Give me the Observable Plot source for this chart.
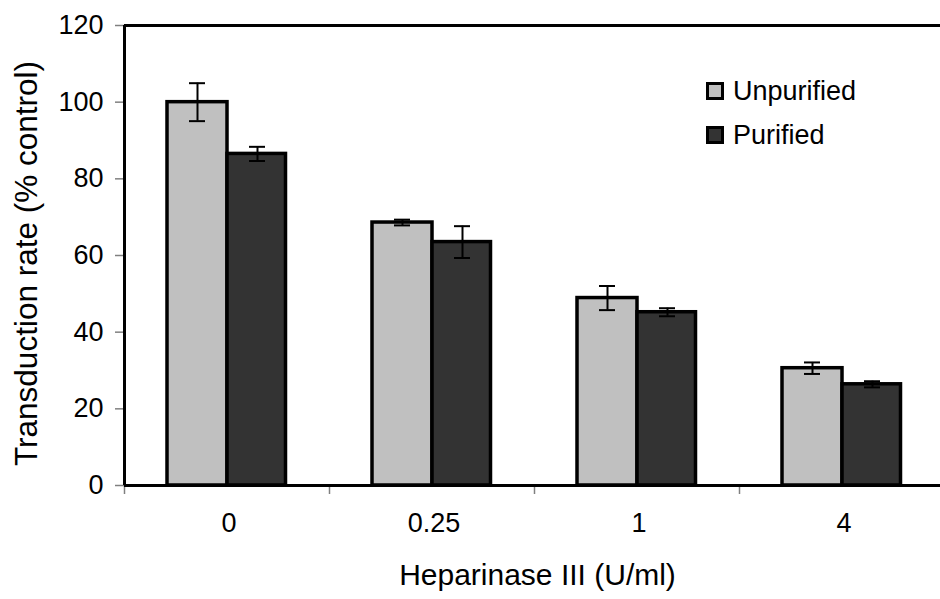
<!DOCTYPE html>
<html>
<head>
<meta charset="utf-8">
<script src="https://cdn.jsdelivr.net/npm/d3@7"></script>
<script src="https://cdn.jsdelivr.net/npm/@observablehq/plot@0.6"></script>
<style>
  html, body { margin: 0; padding: 0; background: #fff; }
  #wrap { position: relative; width: 940px; height: 599px; font-family: "Liberation Sans", Arial, sans-serif; }
  #legend { position: absolute; left: 706px; top: 79px; font-size: 27px; color: #000; }
  .item { display: flex; align-items: center; height: 24px; margin-bottom: 20px; }
  .sw { width: 12px; height: 12px; border: 3px solid #000; margin-right: 9px; }
</style>
</head>
<body>
<div id="wrap"><div id="legend"></div></div>
<script>
const doses = ["0", "0.25", "1", "4"];
const series = ["Unpurified", "Purified"];
const unpurified = [100, 68.6, 48.9, 30.6];
const unpurifiedErr = [4.95, 0.75, 3.15, 1.5];
const purified = [86.5, 63.5, 45.2, 26.4];
const purifiedErr = [1.85, 4.15, 1.05, 0.8];
const yTicks = [0, 20, 40, 60, 80, 100, 120];
const colors = ["#c0c0c0", "#333333"];
const xTitle = "Heparinase III (U/ml)";
const yTitle = "Transduction rate (% control)";

const rowsU = doses.map((d, i) => ({dose: d, value: unpurified[i], err: unpurifiedErr[i]}));
const rowsP = doses.map((d, i) => ({dose: d, value: purified[i], err: purifiedErr[i]}));

const x0 = 124, x1 = 944;
const bw = (x1 - x0) / doses.length;      // band width
const barW = 60, gapL = 43;               // bar width, offset of group inside band
const capW = 16;
const cU = gapL + barW / 2 - bw / 2;       // centre offset of unpurified bar
const cP = gapL + barW * 1.5 - bw / 2;     // centre offset of purified bar
const font = '"Liberation Sans", Arial, sans-serif';

function errMarks(rows, c) {
  const cx = bw / 2 + c;
  return [
    Plot.ruleX(rows, {x: "dose", y1: d => d.value - d.err, y2: d => d.value + d.err, dx: c, stroke: "#000", strokeWidth: 2}),
    Plot.tickY(rows, {x: "dose", y: d => d.value + d.err, insetLeft: cx - capW / 2, insetRight: bw - cx - capW / 2, stroke: "#000", strokeWidth: 2}),
    Plot.tickY(rows, {x: "dose", y: d => d.value - d.err, insetLeft: cx - capW / 2, insetRight: bw - cx - capW / 2, stroke: "#000", strokeWidth: 2})
  ];
}

const chart = Plot.plot({
  width: 940,
  height: 599,
  marginLeft: x0,
  marginRight: 0,
  marginTop: 25,
  marginBottom: 114,
  style: {fontFamily: font, background: "transparent", overflow: "visible"},
  x: {type: "band", domain: doses, range: [x0, x1], padding: 0, axis: null},
  y: {domain: [0, 120], axis: null},
  marks: [
    // y axis ticks and labels
    Plot.axisY({ticks: yTicks, tickSize: 9, tickPadding: 12, stroke: "#808080", strokeWidth: 1.5, fill: "#000", fontSize: 27, label: null}),
    // x labels
    Plot.axisX({tickSize: 0, tickPadding: 27, fontSize: 27, fill: "#000", dx: 2, label: null}),
    // boundary ticks under the x axis
    Plot.ruleX(doses, {x: d => d, y1: 0, y2: 0, insetBottom: -9, dx: -bw / 2, stroke: "#808080", strokeWidth: 1.5}),
    // bars
    Plot.barY(rowsU, {x: "dose", y: "value", fill: colors[0], stroke: "#000", strokeWidth: 3.5, insetLeft: gapL, insetRight: bw - gapL - barW}),
    Plot.barY(rowsP, {x: "dose", y: "value", fill: colors[1], stroke: "#000", strokeWidth: 3.5, insetLeft: gapL + barW, insetRight: bw - gapL - 2 * barW + 1.5}),
    ...errMarks(rowsU, cU),
    ...errMarks(rowsP, cP),
    // frame lines
    Plot.ruleY([0, 120], {stroke: "#000", strokeWidth: 3}),
    Plot.ruleX([doses[0]], {x: d => d, y1: 0, y2: 120, dx: -bw / 2, stroke: "#000", strokeWidth: 3}),
    // titles
    Plot.text([xTitle], {frameAnchor: "bottom", text: d => d, dx: 5, dy: 99, fontSize: 30, fill: "#000", lineAnchor: "bottom"}),
    Plot.text([yTitle], {frameAnchor: "left", text: d => d, rotate: -90, textAnchor: "middle", dx: -88, dy: 8, fontSize: 31.5, fill: "#000", lineAnchor: "bottom"})
  ]
});
document.getElementById("wrap").prepend(chart);

const legend = document.getElementById("legend");
series.forEach((s, i) => {
  const item = document.createElement("div");
  item.className = "item";
  const sw = document.createElement("span");
  sw.className = "sw";
  sw.style.background = colors[i];
  const t = document.createElement("span");
  t.textContent = s;
  item.append(sw, t);
  legend.append(item);
});
</script>
</body>
</html>
